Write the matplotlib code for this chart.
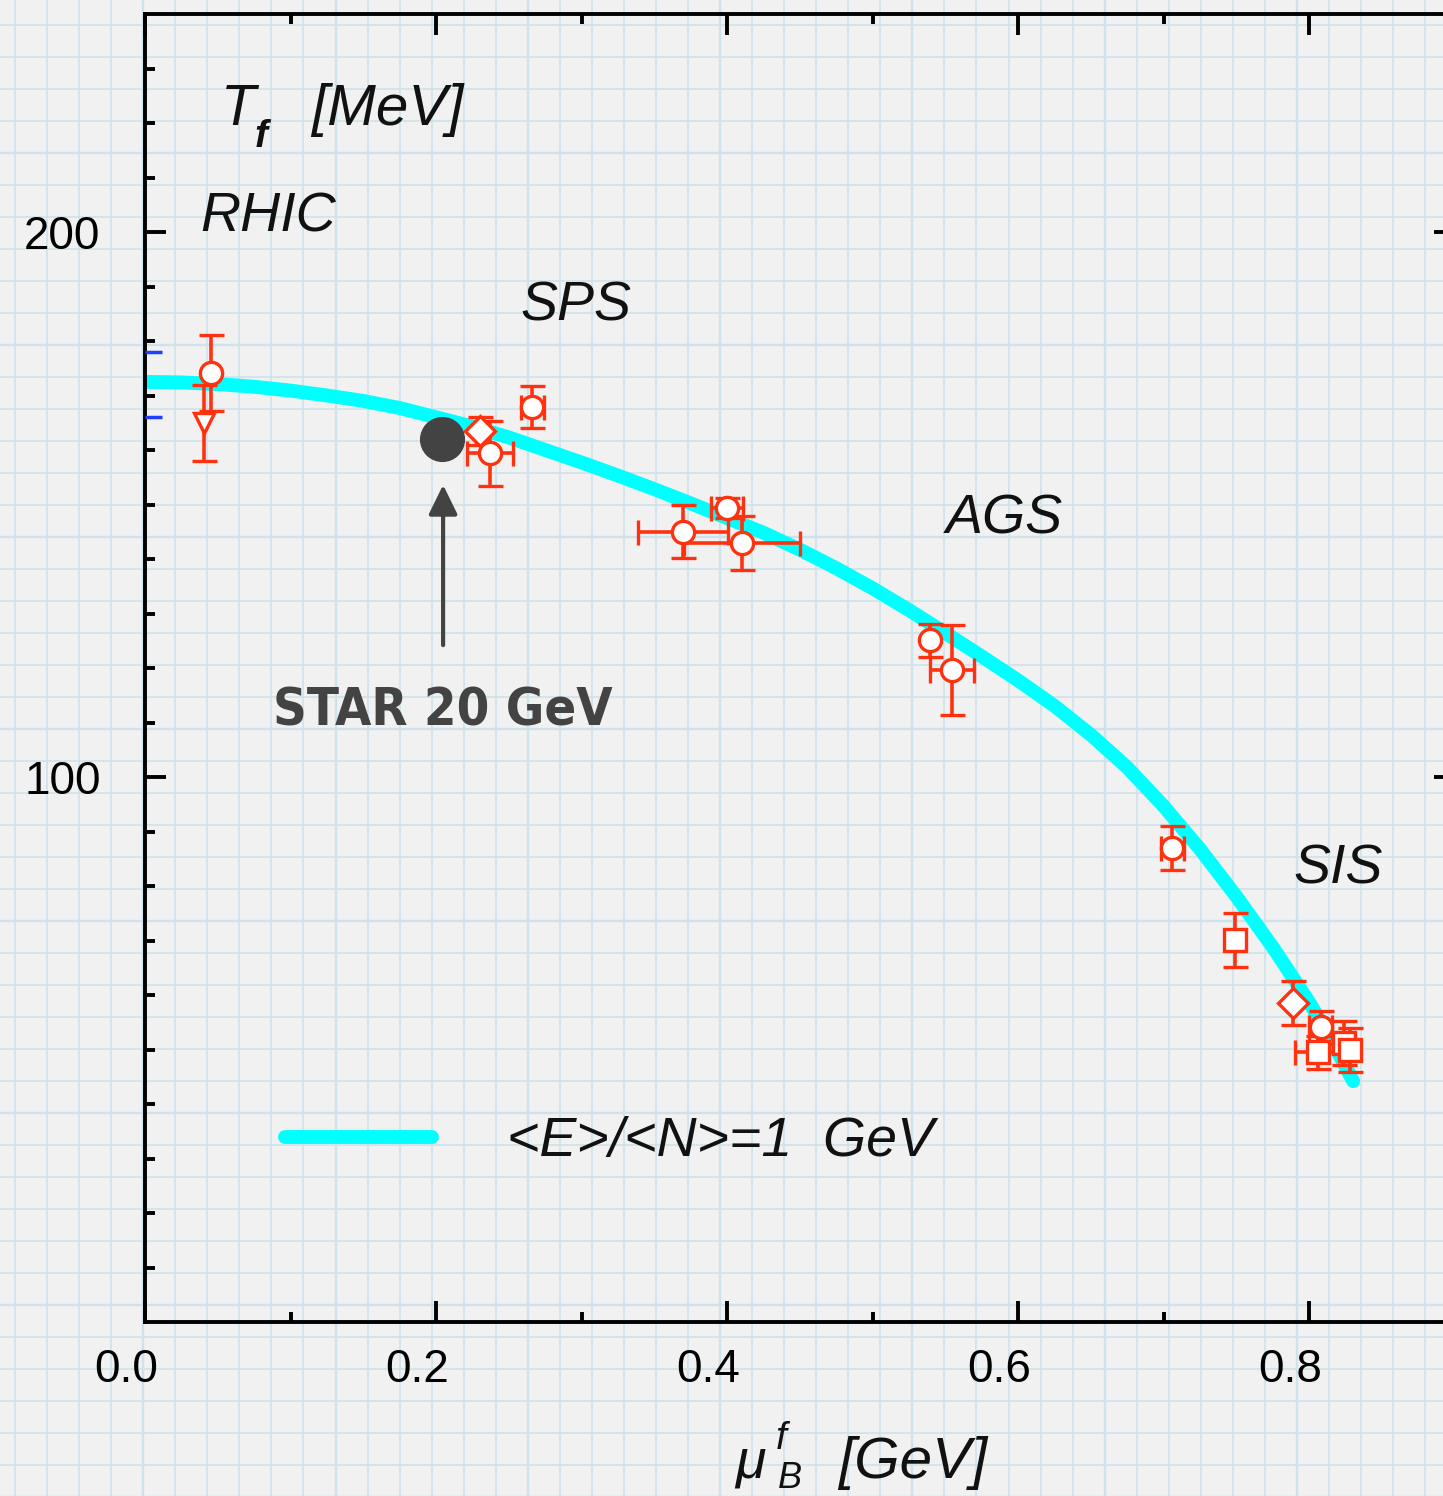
import matplotlib
matplotlib.use("Agg")
import matplotlib.pyplot as plt
from matplotlib import font_manager
import numpy as np
from matplotlib.transforms import ScaledTranslation

# ---------------- data ----------------
# freeze-out curve <E>/<N> = 1 GeV
curve_mu = [0.0, 0.025, 0.05, 0.075, 0.1, 0.125, 0.15, 0.175, 0.2, 0.225, 0.25,
            0.275, 0.3, 0.325, 0.35, 0.375, 0.4, 0.425, 0.45, 0.475, 0.5, 0.525,
            0.55, 0.575, 0.6, 0.625, 0.65, 0.675, 0.7, 0.725, 0.75, 0.775, 0.8,
            0.815, 0.83]
curve_T = [172.5, 172.4, 172.1, 171.6, 170.9, 170.0, 169.0, 167.7, 166.0, 164.3,
           162.3, 160.0, 157.7, 155.3, 152.8, 150.2, 147.5, 144.8, 141.7, 138.3,
           134.6, 130.6, 126.4, 122.1, 117.7, 113.0, 107.7, 101.7, 94.6, 86.7,
           78.0, 68.7, 58.6, 51.8, 44.2]

# circles
circ_mu = [0.0454, 0.2371, 0.2660, 0.3698, 0.4000, 0.4103, 0.5395, 0.5546, 0.7058, 0.8076]
circ_T = [174.1, 159.4, 167.9, 145.0, 149.4, 142.9, 125.1, 119.6, 87.0, 54.1]
circ_dT = [7.0, 6.0, 3.9, 4.9, 1.8, 5.0, 3.0, 8.2, 4.0, 3.0]
circ_dmu = [0.0, 0.016, 0.008, 0.031, 0.011, 0.040, 0.0, 0.015, 0.008, 0.008]

# triangle (RHIC)
tri_mu = [0.0405]
tri_T = [165.0]
tri_dT = [7.0]

# diamonds
dia_mu = [0.2302, 0.7890]
dia_T = [163.5, 58.5]
dia_dT = [2.5, 4.0]

# squares
sq_mu = [0.7491, 0.8062, 0.8234, 0.8282]
sq_T = [70.1, 49.5, 51.2, 49.9]
sq_dT = [5.0, 3.0, 4.0, 4.0]
sq_dmu = [0.0, 0.016, 0.0, 0.0]

# STAR 20 GeV point
star_mu = [0.2041]
star_T = [162.0]

# blue marks on the T axis
rhic_band = [178.0, 166.1]

regions = ["RHIC", "SPS", "AGS", "SIS"]
region_mu = [0.038, 0.258, 0.550, 0.789]
region_T = [200.0, 183.7, 144.6, 80.4]

x_ticks = [0.0, 0.2, 0.4, 0.6, 0.8]
x_ticklabels = ["0.0", "0.2", "0.4", "0.6", "0.8"]
y_ticks = [100, 200]
y_ticklabels = ["100", "200"]

# ---------------- figure ----------------
W, H = 1443, 1496
fig = plt.figure(figsize=(W / 100, H / 100), dpi=100)
fig.patch.set_facecolor("#f1f1f1")

# graph-paper background
bg = fig.add_axes([0, 0, 1, 1], zorder=-5)
bg.set_xlim(0, W)
bg.set_ylim(H, 0)
bg.axis("off")
for k in range(0, 46):
    xv = 15 + 32.05 * k
    bg.axvline(xv, color="#cde2ea", lw=1.7 if k % 6 == 4 else 1.2, zorder=0)
for k in range(0, 48):
    yv = 25 + 32.0 * k
    bg.axhline(yv, color="#cde2ea", lw=1.7 if k % 6 == 4 else 1.2, zorder=0)

FONT = "Liberation Sans"
RED = "#ff3210"

ax = fig.add_axes([145 / W, 1 - 1322 / H, (1455 - 145) / W, (1322 - 14) / H])
ax.set_facecolor("none")
ax.set_xlim(0, 0.9)
ax.set_ylim(0, 240)
for s in ax.spines.values():
    s.set_linewidth(2.8)
    s.set_color("black")

ax.set_xticks(x_ticks)
ax.set_xticklabels(x_ticklabels, fontfamily=FONT, fontsize=33)
ax.set_xticks(np.arange(0.1, 0.9, 0.2), minor=True)
ax.set_yticks(y_ticks)
ax.set_yticklabels(y_ticklabels, fontfamily=FONT, fontsize=33)
ax.set_yticks(np.arange(10, 240, 10), minor=True)
ax.tick_params(which="both", direction="in", top=True, right=True, width=2.8, color="black")
ax.tick_params(which="major", length=15)
ax.tick_params(which="minor", length=7.5)
ax.tick_params(axis="x", which="major", pad=19)
ax.tick_params(axis="y", which="major", pad=32)
off = ScaledTranslation(-19 / 100, 0, fig.dpi_scale_trans)
for lab in ax.get_xticklabels():
    lab.set_transform(lab.get_transform() + off)

# curve
ax.plot(curve_mu, curve_T, color="#00ffff", lw=10, solid_capstyle="round",
        solid_joinstyle="round", zorder=2, label="<E>/<N>=1  GeV")

ekw = dict(ecolor=RED, elinewidth=2.6, capsize=9, capthick=2.6, linestyle="none",
           mec=RED, mfc="white", mew=2.4, zorder=4)
ax.errorbar(circ_mu, circ_T, yerr=circ_dT, xerr=circ_dmu, fmt="o", ms=16, **ekw)
ax.errorbar(tri_mu, tri_T, yerr=tri_dT, fmt="v", ms=15, **ekw)
ax.errorbar(dia_mu, dia_T, yerr=dia_dT, fmt="D", ms=15, **ekw)
ax.errorbar(sq_mu, sq_T, yerr=sq_dT, xerr=sq_dmu, fmt="s", ms=16, **ekw)

ax.hlines(rhic_band, 0, 0.012, color="#2040ff", lw=2.5, zorder=5)

# STAR point + arrow
ax.plot(star_mu, star_T, "o", color="#434343", ms=31.5, zorder=6)
ax.annotate("", xy=(star_mu[0] + 0.0007, 153.6), xytext=(star_mu[0] + 0.0007, 124.2),
            arrowprops=dict(arrowstyle="-|>,head_length=0.45,head_width=0.22",
                            lw=3, color="#434343", mutation_scale=40,
                            shrinkA=0, shrinkB=0), zorder=6)

# pick a condensed bold face if one is installed
cond = None
for f in font_manager.fontManager.ttflist:
    nm = (f.name + " " + str(f.stretch)).lower()
    if ("condensed" in nm or "narrow" in nm) and f.weight in (600, 700, 800, "bold"):
        cond = f
        break
if cond is not None:
    star_font = dict(fname=cond.fname)
else:
    star_font = dict(family="Roboto", weight="bold")
star_txt = ax.text(star_mu[0] + 0.0003, 109.5, "STAR 20 GeV", ha="center", va="baseline",
                   fontproperties=font_manager.FontProperties(size=54, **star_font),
                   color="#434343", zorder=6)
# fit the label to the width seen in the reference (~330 px)
r = fig.canvas.get_renderer()
wpx = star_txt.get_window_extent(r).width
if wpx > 340:
    star_txt.set_fontsize(54 * 340 / wpx)

# region labels
for name, xm, yt in zip(regions, region_mu, region_T):
    ax.text(xm, yt, name, ha="left", va="baseline", fontfamily=FONT,
            style="italic", fontsize=40, color="#111111")

# axis titles (placed in pixel positions of the figure)
def ftext(px, py, s, **kw):
    fig.text(px / W, 1 - py / H, s, fontfamily=FONT, color="#111111", **kw)

ftext(221, 125, "T", fontsize=41, style="italic", va="baseline")
ftext(255, 147, "f", fontsize=28, style="italic", fontweight="bold", va="baseline")
ftext(311, 125, "[MeV]", fontsize=42, style="italic", va="baseline")

ftext(735, 1478, "\u03bc", fontsize=40, style="italic", va="baseline")
ftext(776, 1449, "f", fontsize=28, style="italic", va="baseline")
ftext(778, 1488, "B", fontsize=26, style="italic", va="baseline")
ftext(838, 1478, "[GeV]", fontsize=42, style="italic", va="baseline")

# legend
leg = ax.legend(loc="center left", bbox_to_anchor=((285 - 145) / 1310, (1322 - 1142) / 1308),
                frameon=False, borderpad=0, borderaxespad=0, handlelength=2.65,
                handletextpad=1.35, prop=dict(family=FONT, style="italic", size=40))
for t in leg.get_texts():
    t.set_color("#111111")

fig.savefig("out.png", dpi=100, facecolor=fig.get_facecolor())
